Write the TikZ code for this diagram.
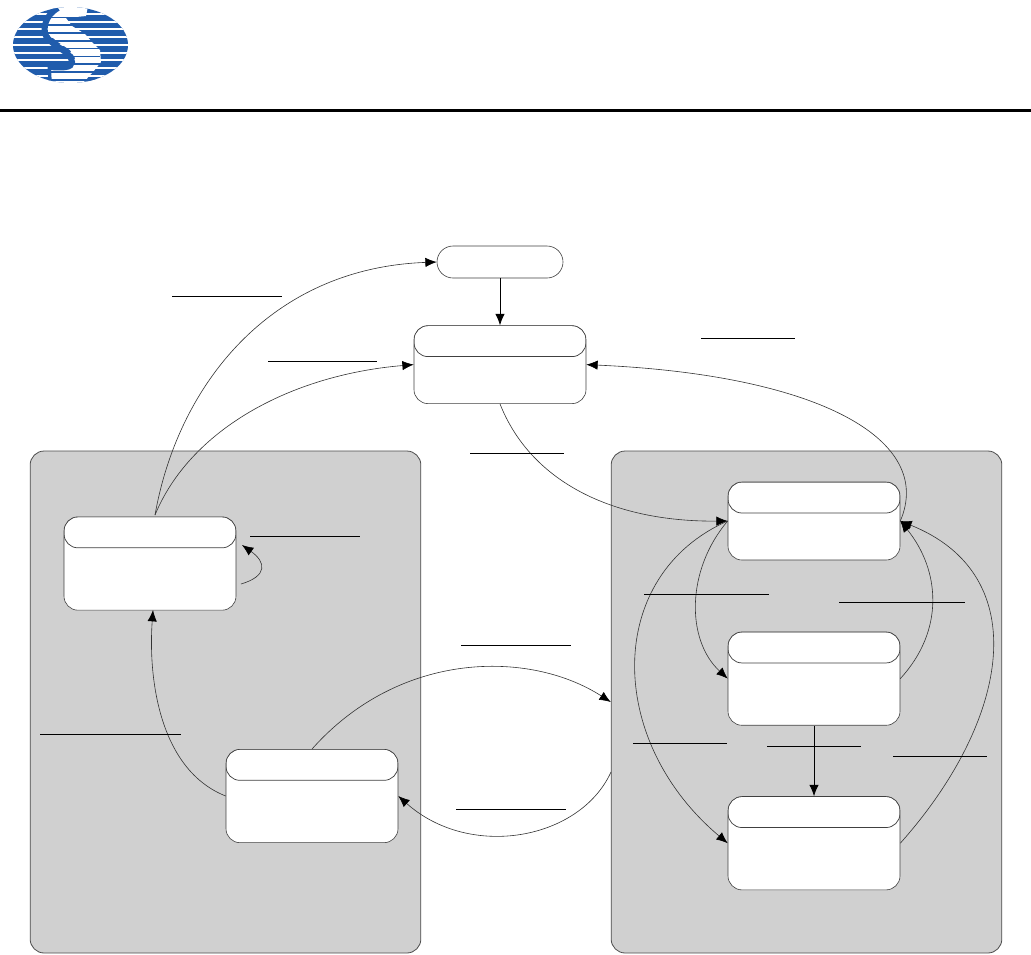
\documentclass[tikz,border=0pt]{standalone}
\usepackage{xcolor}
\usepackage{tikz}
\usetikzlibrary{positioning,arrows.meta}
\definecolor{logoblue}{RGB}{32,92,172}
\definecolor{panelgray}{RGB}{208,208,208}

\begin{document}
\begin{tikzpicture}[x=0.75pt, y=-0.75pt, inner sep=0pt,
  panelbox/.style={draw=black!70, fill=panelgray, line width=0.6pt, rounded corners=10.5pt, minimum width=293pt, minimum height=376.5pt},
  statebox/.style={draw=black!75, fill=white, line width=0.45pt, rounded corners=10.5pt, minimum width=129pt, minimum height=#1,
    path picture={\draw[black!75, line width=0.55pt, rounded corners=10.5pt] (path picture bounding box.north west) rectangle ([yshift=-23.25pt]path picture bounding box.north east);}},
  startbox/.style={draw=black!75, fill=white, line width=0.45pt, rounded corners=12pt, minimum width=94.5pt, minimum height=24pt},
  curve/.style={-{Latex[length=8.5pt,width=7pt,black]}, black!80, line width=0.45pt},
  straight/.style={-{Latex[length=8.5pt,width=7pt]}, black, line width=0.65pt},
  barline/.style={black, line width=0.75pt}]
  \useasboundingbox (0,0) rectangle (1031,954);

  % logo
  \begin{scope}
    \clip (70.5,45) ellipse [x radius=57.5, y radius=38];
    \fill[logoblue] (13,7) rectangle (128,83);
    \foreach \y in {14,21.5,29,37,44.5,52.5,60,68,76}
      \draw[white, line width=1.5pt] (13,\y) -- (128,\y);
    \fill[white] (60,6) -- (88,6) -- (86,16) -- (66,18) -- (72,26) -- (85,34) -- (92,42) -- (100,50) -- (101,62) -- (93,72) -- (82,84) -- (50,84) -- (50,68) -- (72,68) -- (75,58) -- (70,50) -- (58,42) -- (48,34) -- (48,18) -- cycle;
    \foreach \y in {17.5,25,33,41,48.5,56.5,64,72,80}
      \draw[logoblue, line width=0.8pt] (48,\y) -- (100,\y);
    \draw[logoblue, line width=4.5pt] (58,8) .. controls (44,16) and (43,30) .. (46,36) .. controls (52,46) and (72,52) .. (72,62) .. controls (72,68) and (62,68) .. (50,67);
    \draw[logoblue, line width=2.5pt] (49,64) -- (50,80);
  \end{scope}
  \draw[black, line width=2.25pt] (0,110.5) -- (1031,110.5);

  \node[panelbox] (lpanel) at (225.5,702) {};
  \node[panelbox] (rpanel) at (806.5,702) {};

  \node[startbox] (start) at (500,262) {};
  \node[statebox=58.5pt, below=35.25pt of start] (top) {};
  \node[statebox=70pt] (ltop) at (150,563.5) {};
  \node[statebox=70pt] (lbottom) at (312,796) {};
  \node[statebox=58.5pt] (rone) at (814,521) {};
  \node[statebox=70pt, below=53.5pt of rone] (rtwo) {};
  \node[statebox=70pt, below=53pt of rtwo] (rthree) {};

  \coordinate (ltopout) at (155,515);
  \coordinate (ltopin) at (153,610);
  \coordinate (loopout) at (241,584);
  \coordinate (loopin) at (242,545);
  \coordinate (rpanelout) at (611,772);

  \draw[straight] (start) -- (top);
  \draw[straight] (rtwo) -- (rthree);
  \draw[curve] (ltopout) .. controls (178,385) and (270,268) .. (start.west);
  \draw[curve] (ltopout) .. controls (190,430) and (290,375) .. (top.west);
  \draw[curve] (top.south) .. controls (530,480) and (610,522) .. (rone.west);
  \draw[curve] (rone.east) .. controls (935,440) and (820,375) .. (top.east);
  \draw[curve] (rone.west) .. controls (686,570) and (686,640) .. (rtwo.west);
  \draw[curve] (rtwo.east) .. controls (945,630) and (940,570) .. (rone.east);
  \draw[curve] (rone.west) .. controls (605,575) and (605,740) .. (rthree.west);
  \draw[curve] (rthree.east) .. controls (1010,720) and (1035,575) .. (rone.east);
  \draw[curve] (lbottom.west) .. controls (160,770) and (148,680) .. (ltopin);
  \draw[curve] (lbottom.north) .. controls (400,650) and (530,650) .. (rpanel.west);
  \draw[curve] (rpanelout) .. controls (580,840) and (470,860) .. (lbottom.east);
  \draw[curve] (loopout) .. controls (268,576) and (266,562) .. (loopin);

  \foreach \xa/\xb/\y in {172/282/296, 268/377/361, 701/795/338, 470/564/453, 250/360/536, 644/769/594, 839/965/602, 461/571/645, 40/181/734, 633/727/743, 767/861/746, 893/987/756, 456/566/809}
    \draw[barline] (\xa,\y) -- (\xb,\y);
\end{tikzpicture}
\end{document}
